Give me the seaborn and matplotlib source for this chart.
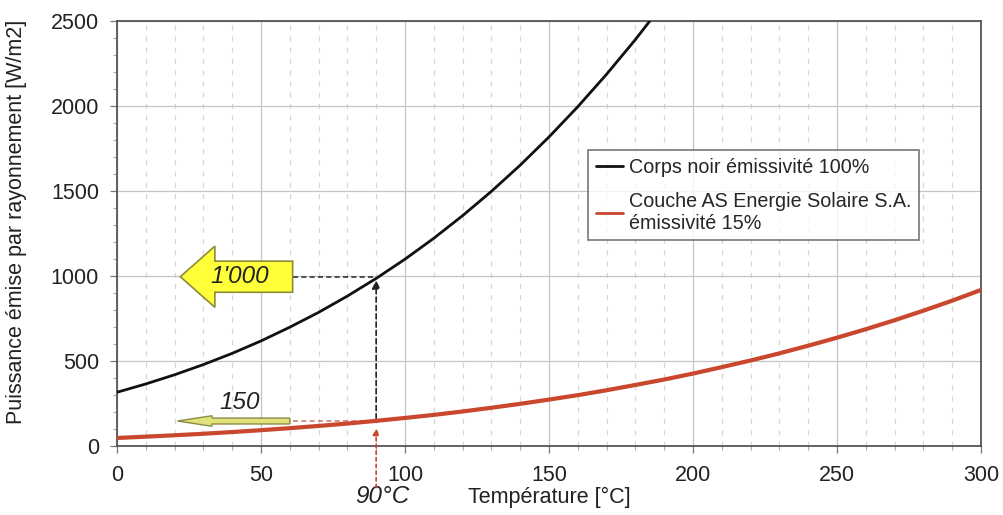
import numpy as np
import pandas as pd
import matplotlib
matplotlib.use("Agg")
import matplotlib.pyplot as plt
from matplotlib.patches import FancyArrow
from matplotlib.ticker import MultipleLocator
import seaborn as sns

# valeurs
temp_noir = [0, 10, 20, 30, 40, 50, 60, 70, 80, 90, 100, 110, 120, 130, 140,
             150, 160, 170, 180, 190]
puiss_noir = [316, 365, 419, 479, 545, 618, 699, 786, 882, 986, 1099, 1222,
              1355, 1498, 1652, 1818, 1996, 2187, 2391, 2609]

temp_as = [0, 10, 20, 30, 40, 50, 60, 70, 80, 90, 100, 110, 120, 130, 140, 150,
           160, 170, 180, 190, 200, 210, 220, 230, 240, 250, 260, 270, 280, 290, 300]
puiss_as = [47, 55, 63, 72, 82, 93, 105, 118, 132, 148, 165, 183, 203, 225, 248,
            273, 299, 328, 359, 391, 426, 464, 503, 545, 590, 637, 687, 740, 796,
            855, 918]

t_ref = 90
val_noir = 1000
val_as = 150

df_noir = pd.DataFrame({"T": temp_noir, "P": puiss_noir})
df_as = pd.DataFrame({"T": temp_as, "P": puiss_as})

sns.set_style("white")
plt.rcParams["font.family"] = ["Liberation Sans", "DejaVu Sans"]

fig = plt.figure(figsize=(10.04, 5.15), dpi=100)
ax = fig.add_axes([0.1165, 0.134, 0.8605, 0.825])

sns.lineplot(data=df_noir, x="T", y="P", ax=ax, color="#111111", lw=2,
             label="Corps noir émissivité 100%", zorder=4)
sns.lineplot(data=df_as, x="T", y="P", ax=ax, color="#c9472c", lw=3,
             label="Couche AS Energie Solaire S.A.\némissivité 15%", zorder=4)

ax.set_xlim(0, 300)
ax.set_ylim(0, 2500)
ax.xaxis.set_major_locator(MultipleLocator(50))
ax.xaxis.set_minor_locator(MultipleLocator(10))
ax.yaxis.set_major_locator(MultipleLocator(500))
ax.yaxis.set_minor_locator(MultipleLocator(100))
ax.grid(which="major", color="#c4c4c4", lw=0.9, ls="-")
ax.grid(which="minor", axis="x", color="#d6d6d6", lw=0.9, ls=(0, (4, 5)))
ax.set_axisbelow(True)
for s in ax.spines.values():
    s.set_color("#555555")
    s.set_linewidth(1.3)

ax.tick_params(which="major", direction="out", length=5, width=0.9,
               color="#777777", labelsize=15.5, pad=8, labelcolor="#222222")
ax.tick_params(which="minor", direction="out", length=3, width=0.8, color="#aaaaaa")
ax.tick_params(axis="x", which="major", pad=9)
ax.tick_params(left=True, bottom=True, which="both")

ax.set_xlabel("Température [°C]", fontsize=15.5, color="#222222")
ax.xaxis.set_label_coords(0.5, -0.12)
ax.xaxis.label.set_va("center")
ax.set_ylabel("Puissance émise par rayonnement [W/m2]", fontsize=15.5, color="#222222")
ax.yaxis.set_label_coords(-0.104, 0.527)
ax.text(92, -300, "90°C", fontsize=17.5, style="italic", ha="center",
        va="center", color="#222222", clip_on=False)

# repères à 90 °C
ax.plot([61, t_ref], [val_noir - 6, val_noir - 6], color="#333333", lw=1.2,
        ls=(0, (3, 2)), zorder=3)
ax.plot([61, t_ref], [val_as - 3, val_as - 3], color="#d08070", lw=1.2,
        ls=(0, (3, 2)), zorder=3)
ax.annotate("", xy=(t_ref, 975), xytext=(t_ref, 160),
            arrowprops=dict(arrowstyle="-|>", color="#222222", lw=1.2,
                            ls=(0, (3, 2)), mutation_scale=12, shrinkA=0, shrinkB=0),
            zorder=3)
ax.annotate("", xy=(t_ref, 105), xytext=(t_ref, -245),
            arrowprops=dict(arrowstyle="-|>", color="#c9472c", lw=1.2,
                            ls=(0, (2, 2)), mutation_scale=10, shrinkA=0, shrinkB=0),
            annotation_clip=False, zorder=5)

# flèches jaunes
ax.add_patch(FancyArrow(61, 996, -39, 0, width=183, head_width=360, head_length=12,
                        length_includes_head=True, fc="#ffff3a", ec="#8c8c3a",
                        lw=1.2, zorder=6))
ax.text(42.5, 996, "1'000", fontsize=17.5, style="italic", ha="center", va="center",
        color="#222222", zorder=7)
ax.add_patch(FancyArrow(60, 147, -39, 0, width=35, head_width=62, head_length=12,
                        length_includes_head=True, fc="#e2e27a", ec="#8c8c45",
                        lw=1.0, zorder=6))
ax.text(42.5, 257, "150", fontsize=17.5, style="italic", ha="center", va="center",
        color="#222222", zorder=7)

leg = ax.legend(loc="upper left", bbox_to_anchor=(0.545, 0.697), fontsize=14.2,
                frameon=True, fancybox=False, borderaxespad=0, labelspacing=0.75,
                handlelength=1.4, handletextpad=0.3, borderpad=0.4)
leg.get_frame().set_edgecolor("#555555")
leg.get_frame().set_linewidth(1.2)
for line in leg.get_lines():
    line.set_linewidth(2)

fig.savefig("out.png", dpi=100)
plt.close(fig)
